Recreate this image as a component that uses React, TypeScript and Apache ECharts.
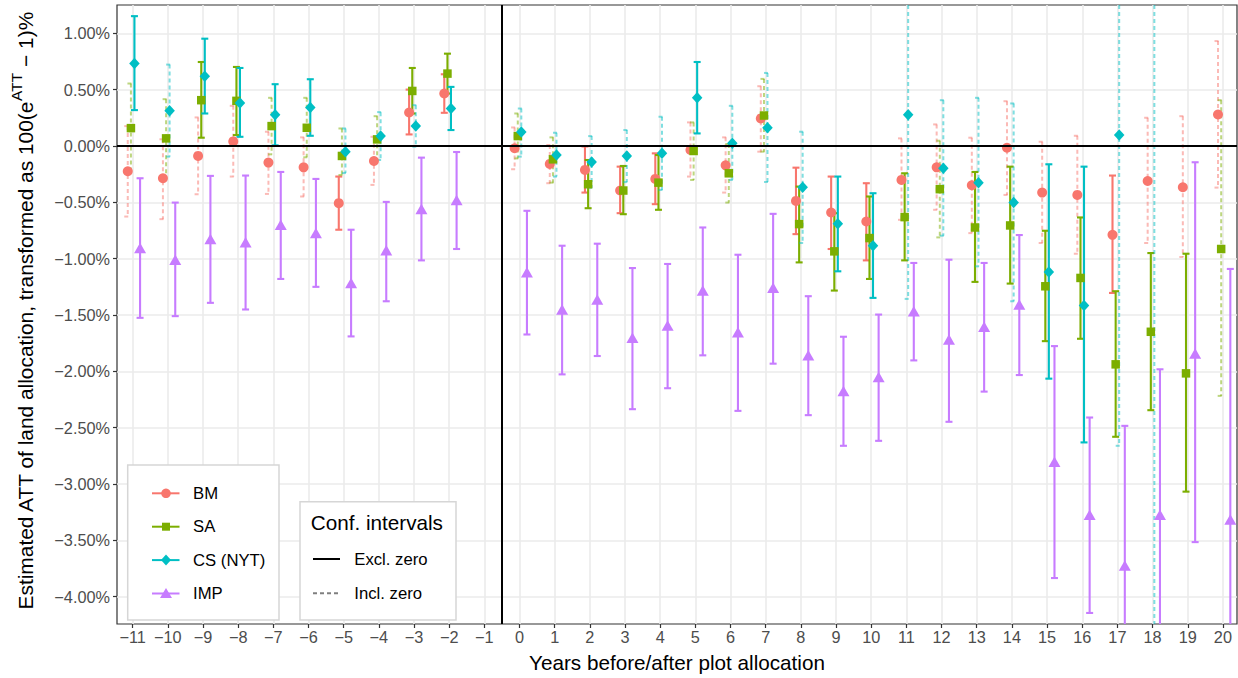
import React, { useEffect, useRef } from "react";
import * as echarts from "echarts";

// ---------- data ----------
const YEARS = [-11, -10, -9, -8, -7, -6, -5, -4, -3, -2, 0, 1, 2, 3, 4, 5, 6, 7, 8, 9, 10, 11, 12, 13, 14, 15, 16, 17, 18, 19, 20];
const X_TICKS = [-11, -10, -9, -8, -7, -6, -5, -4, -3, -2, -1, 0, 1, 2, 3, 4, 5, 6, 7, 8, 9, 10, 11, 12, 13, 14, 15, 16, 17, 18, 19, 20];
const Y_TICKS = [1, 0.5, 0, -0.5, -1, -1.5, -2, -2.5, -3, -3.5, -4];

const bmEst = [-0.224, -0.286, -0.088, 0.041, -0.147, -0.189, -0.507, -0.133, 0.298, 0.466, -0.02, -0.159, -0.212, -0.395, -0.292, -0.035, -0.171, 0.245, -0.487, -0.59, -0.67, -0.301, -0.189, -0.348, -0.015, -0.413, -0.434, -0.788, -0.31, -0.366, 0.28];
const bmLo = [-0.626, -0.649, -0.428, -0.271, -0.425, -0.448, -0.743, -0.345, 0.103, 0.295, -0.206, -0.33, -0.413, -0.596, -0.516, -0.271, -0.413, -0.05, -0.782, -0.914, -1.015, -0.655, -0.566, -0.773, -0.434, -0.861, -0.956, -1.304, -0.861, -0.985, -0.369];
const bmHi = [0.177, 0.06, 0.254, 0.357, 0.127, 0.077, -0.271, 0.082, 0.501, 0.637, 0.165, 0.009, -0.004, -0.183, -0.065, 0.21, 0.077, 0.531, -0.192, -0.271, -0.33, 0.068, 0.192, 0.074, 0.398, 0.038, 0.091, -0.262, 0.251, 0.265, 0.932];

const saEst = [0.159, 0.068, 0.407, 0.401, 0.177, 0.162, -0.088, 0.059, 0.489, 0.643, 0.088, -0.118, -0.339, -0.395, -0.325, -0.044, -0.242, 0.271, -0.693, -0.935, -0.817, -0.631, -0.383, -0.723, -0.705, -1.245, -1.171, -1.938, -1.649, -2.018, -0.914];
const saLo = [-0.24, -0.28, 0.074, 0.097, -0.074, -0.1, -0.257, -0.15, 0.289, 0.466, -0.11, -0.325, -0.552, -0.605, -0.566, -0.301, -0.502, -0.05, -1.033, -1.283, -1.18, -1.015, -0.811, -1.206, -1.221, -1.732, -1.711, -2.581, -2.345, -3.068, -2.218];
const saHi = [0.555, 0.416, 0.746, 0.702, 0.428, 0.428, 0.156, 0.265, 0.693, 0.82, 0.289, 0.077, -0.124, -0.177, -0.08, 0.21, 0.018, 0.596, -0.36, -0.596, -0.448, -0.242, 0.047, -0.23, -0.183, -0.752, -0.634, -1.289, -0.95, -0.956, 0.407];

const csEst = [0.732, 0.313, 0.619, 0.383, 0.277, 0.342, -0.05, 0.088, 0.177, 0.333, 0.124, -0.08, -0.142, -0.088, -0.065, 0.428, 0.024, 0.162, -0.366, -0.69, -0.885, 0.277, -0.198, -0.325, -0.502, -1.118, -1.416, 0.097, -4.6, null, null];
const csLo = [0.319, -0.094, 0.289, 0.082, 0.006, 0.091, -0.24, -0.124, -0.006, 0.142, -0.094, -0.271, -0.37, -0.32, -0.39, 0.112, -0.301, -0.319, -0.861, -1.112, -1.348, -1.357, -0.796, -1.068, -1.378, -2.065, -2.631, -2.661, -11.0, null, null];
const csHi = [1.153, 0.723, 0.953, 0.693, 0.549, 0.593, 0.156, 0.301, 0.363, 0.525, 0.333, 0.118, 0.088, 0.142, 0.26, 0.746, 0.357, 0.649, 0.127, -0.271, -0.419, 1.91, 0.407, 0.428, 0.378, -0.162, -0.183, 2.855, 1.8, null, null];

const impEst = [-0.906, -1.009, -0.826, -0.855, -0.699, -0.773, -1.215, -0.926, -0.558, -0.478, -1.121, -1.451, -1.363, -1.702, -1.593, -1.283, -1.652, -1.259, -1.858, -2.174, -2.05, -1.466, -1.717, -1.605, -1.407, -2.803, -3.274, -3.723, -3.274, -1.841, -3.316];
const impLo = [-1.525, -1.51, -1.392, -1.451, -1.18, -1.25, -1.69, -1.378, -1.015, -0.914, -1.673, -2.027, -1.864, -2.336, -2.15, -1.858, -2.351, -1.932, -2.389, -2.661, -2.617, -1.903, -2.448, -2.18, -2.033, -3.835, -4.145, -4.96, -4.57, -3.516, -5.54];
const impHi = [-0.286, -0.502, -0.265, -0.262, -0.23, -0.292, -0.743, -0.496, -0.103, -0.053, -0.575, -0.885, -0.867, -1.083, -1.047, -0.723, -0.965, -0.602, -1.333, -1.693, -1.496, -1.038, -1.009, -1.038, -0.79, -1.776, -2.41, -2.484, -1.982, -0.144, -1.091];

const MODELS = [
  { name: "BM", color: "#F8766D", offset: -0.14, symbol: "circle", size: 10, est: bmEst, lo: bmLo, hi: bmHi },
  { name: "SA", color: "#7CAE00", offset: -0.05, symbol: "rect", size: 8.5, est: saEst, lo: saLo, hi: saHi },
  { name: "CS (NYT)", color: "#00BFC4", offset: 0.05, symbol: "diamond", size: [10.5, 11.5], est: csEst, lo: csLo, hi: csHi },
  { name: "IMP", color: "#C77CFF", offset: 0.21, symbol: "triangle", size: [12, 10.5], est: impEst, lo: impLo, hi: impHi },
];

const FONT = "'Liberation Sans', Arial, Helvetica, sans-serif";
const minus = (v: number) => (v < 0 ? "\u2212" : "");

function txt(x: number, y: number, text: string, size: number) {
  return {
    type: "text",
    x,
    y,
    z: 11,
    style: {
      text,
      fill: "#000",
      font: `${size}px ${FONT}`,
      fontSize: size,
      fontFamily: FONT,
      align: "left",
      verticalAlign: "middle",
      textAlign: "left",
      textVerticalAlign: "middle",
    },
  };
}

export default function App() {
  const ref = useRef<HTMLDivElement>(null);

  useEffect(() => {
    if (!ref.current) return;
    const chart = echarts.init(ref.current, null, { renderer: "svg" });

    const series: any[] = [];

    // reference lines (zero and treatment start)
    series.push({
      type: "scatter",
      data: [],
      z: 1,
      silent: true,
      markLine: {
        silent: true,
        symbol: "none",
        label: { show: false },
        lineStyle: { color: "#000", width: 2, type: "solid" },
        data: [{ yAxis: 0 }, { xAxis: -0.5 }],
      },
    });

    MODELS.forEach((m) => {
      const barData: any[] = [];
      const ptData: any[] = [];
      YEARS.forEach((yr, i) => {
        if (m.est[i] === null || m.est[i] === undefined) return;
        barData.push([yr + m.offset, m.lo[i], m.hi[i]]);
        ptData.push([yr + m.offset, m.est[i]]);
      });
      const color = m.color;
      series.push({
        type: "custom",
        name: m.name + " CI",
        z: 2,
        silent: true,
        data: barData,
        encode: { x: 0, y: [1, 2] },
        renderItem: (params: any, api: any) => {
          const x = api.value(0);
          const lo = api.value(1);
          const hi = api.value(2);
          const cs = params.coordSys;
          const top = api.coord([x, hi]);
          const bot = api.coord([x, lo]);
          const yMin = cs.y;
          const yMax = cs.y + cs.height;
          const excl = lo > 0 || hi < 0;
          const style: any = {
            stroke: color,
            lineWidth: excl ? 2.1 : 2,
            lineDash: excl ? null : [4, 3],
            opacity: excl ? 1 : 0.5,
            fill: null,
          };
          const w = 3.5;
          const ty = Math.max(top[1], yMin);
          const by = Math.min(bot[1], yMax);
          const children: any[] = [
            { type: "line", shape: { x1: top[0], y1: ty, x2: bot[0], y2: by }, style },
          ];
          if (top[1] >= yMin) children.push({ type: "line", shape: { x1: top[0] - w, y1: top[1], x2: top[0] + w, y2: top[1] }, style });
          if (bot[1] <= yMax) children.push({ type: "line", shape: { x1: bot[0] - w, y1: bot[1], x2: bot[0] + w, y2: bot[1] }, style });
          return { type: "group", children };
        },
      });
      series.push({
        type: "scatter",
        name: m.name,
        z: 3,
        clip: true,
        silent: true,
        symbol: m.symbol,
        symbolSize: m.size,
        itemStyle: { color: m.color, opacity: 1 },
        data: ptData,
      });
    });

    // legend graphics (flat elements, each with its own z)
    const legendEls: any[] = [];
    MODELS.forEach((m, i) => {
      const cy = 493.3 + i * 33.4;
      const cx = 166;
      legendEls.push({ type: "line", z: 11, shape: { x1: 152, y1: cy, x2: 179.5, y2: cy }, style: { stroke: m.color, lineWidth: 2 } });
      if (m.symbol === "circle") legendEls.push({ type: "circle", z: 12, shape: { cx, cy, r: 4.8 }, style: { fill: m.color } });
      else if (m.symbol === "rect") legendEls.push({ type: "rect", z: 12, shape: { x: cx - 4, y: cy - 4, width: 8, height: 8 }, style: { fill: m.color } });
      else if (m.symbol === "diamond") legendEls.push({ type: "polygon", z: 12, shape: { points: [[cx, cy - 5.5], [cx + 5, cy], [cx, cy + 5.5], [cx - 5, cy]] }, style: { fill: m.color } });
      else legendEls.push({ type: "polygon", z: 12, shape: { points: [[cx, cy - 5.5], [cx + 6, cy + 4.5], [cx - 6, cy + 4.5]] }, style: { fill: m.color } });
      legendEls.push(txt(193, cy, m.name, 16.7));
    });

    const option: any = {
      animation: false,
      backgroundColor: "#fff",
      grid: {
        left: 117,
        top: 5,
        right: 1,
        bottom: 53,
        show: true,
        borderColor: "#333333",
        borderWidth: 1.2,
        backgroundColor: "#fff",
      },
      xAxis: {
        type: "value",
        min: -11.446,
        max: 20.4,
        axisLine: { show: false, onZero: false },
        axisTick: { show: true, length: 4, customValues: X_TICKS, lineStyle: { color: "#333333", width: 1.2 } },
        axisLabel: {
          customValues: X_TICKS,
          color: "#4D4D4D",
          fontSize: 16.3,
          fontFamily: FONT,
          margin: 5,
          formatter: (v: number) => minus(v) + Math.abs(v),
        },
        splitLine: { show: true, lineStyle: { color: "#EBEBEB", width: 1.6 } },
        name: "Years before/after plot allocation",
        nameLocation: "middle",
        nameGap: 28,
        nameTextStyle: { color: "#000", fontSize: 20.7, fontFamily: FONT },
      },
      yAxis: {
        type: "value",
        min: -4.243,
        max: 1.252,
        axisLine: { show: false, onZero: false },
        axisTick: { show: true, length: 4, customValues: Y_TICKS, lineStyle: { color: "#333333", width: 1.2 } },
        axisLabel: {
          customValues: Y_TICKS,
          color: "#4D4D4D",
          fontSize: 16.3,
          fontFamily: FONT,
          margin: 7,
          formatter: (v: number) => minus(v) + Math.abs(v).toFixed(2) + "%",
        },
        splitLine: { show: true, lineStyle: { color: "#EBEBEB", width: 1.6 } },
      },
      graphic: [
        {
          type: "text",
          x: 22,
          y: 311,
          rotation: Math.PI / 2,
          style: {
            text: "{a|Estimated ATT of land allocation, transformed as 100(e}{s|ATT}{a| \u2212 1)%}",
            align: "center",
            verticalAlign: "middle",
            textAlign: "center",
            textVerticalAlign: "middle",
            fill: "#000",
            rich: {
              a: { fontSize: 20.9, fontFamily: FONT, color: "#000", lineHeight: 27, verticalAlign: "bottom" },
              s: { fontSize: 15.5, fontFamily: FONT, color: "#000", lineHeight: 15, verticalAlign: "top" },
            },
          },
        },
        // legend box 1
        { type: "rect", z: 10, shape: { x: 127.7, y: 465, width: 151.3, height: 155 }, style: { fill: "#fff", stroke: "#D6D6D6", lineWidth: 1.5 } },
        // legend box 2
        { type: "rect", z: 10, shape: { x: 300, y: 501.7, width: 156, height: 118.3 }, style: { fill: "#fff", stroke: "#D6D6D6", lineWidth: 1.5 } },
        ...legendEls,
        txt(310.7, 522.7, "Conf. intervals", 20.7),
        { type: "line", z: 11, shape: { x1: 313, y1: 559, x2: 340, y2: 559 }, style: { stroke: "#000", lineWidth: 2 } },
        txt(354.3, 559, "Excl. zero", 16.7),
        { type: "line", z: 11, shape: { x1: 313, y1: 593.3, x2: 340, y2: 593.3 }, style: { stroke: "#000", opacity: 0.5, lineWidth: 2, lineDash: [4, 3] } },
        txt(354.3, 593.3, "Incl. zero", 16.7),
      ],
      series,
    };

    chart.setOption(option);
    return () => chart.dispose();
  }, []);

  return (
    <div
      ref={ref}
      style={{ position: "absolute", left: 0, top: 0, width: 1238, height: 678, background: "#fff" }}
    />
  );
}
